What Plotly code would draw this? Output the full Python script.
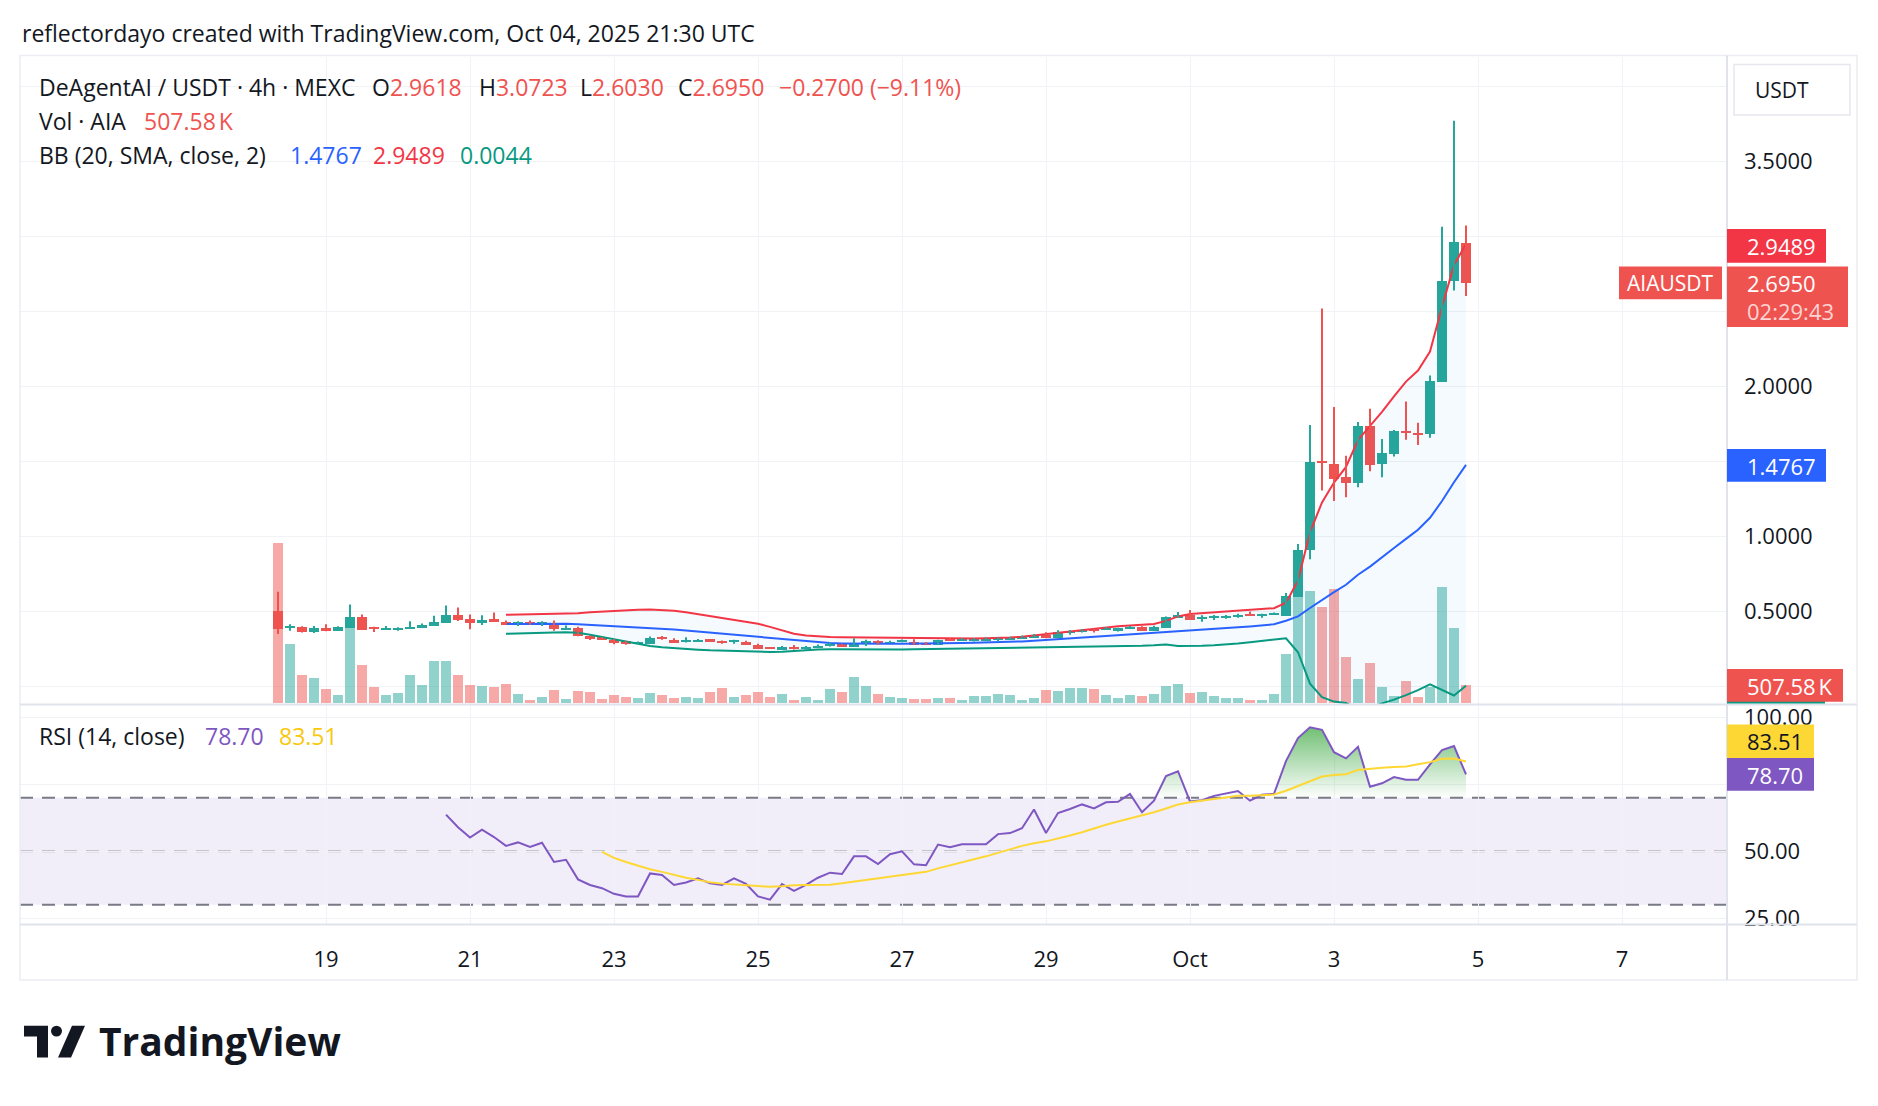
import pandas as pd
import plotly.graph_objects as go

W, H = 1878, 1106

# ---------------- data ----------------
start_time = "2025-09-18 08:00"
n_bars = 100

opens = [0.505, 0.396, 0.399, 0.364, 0.392, 0.370, 0.394, 0.467, 0.394, 0.385,
         0.383, 0.388, 0.390, 0.407, 0.429, 0.480, 0.454, 0.427, 0.454, 0.436,
         0.420, 0.436, 0.420, 0.429, 0.383, 0.392, 0.339, 0.328, 0.315, 0.302,
         0.287, 0.284, 0.330, 0.315, 0.302, 0.304, 0.315, 0.304, 0.300, 0.302,
         0.282, 0.260, 0.243, 0.269, 0.258, 0.262, 0.273, 0.282, 0.269, 0.293,
         0.306, 0.291, 0.297, 0.302, 0.291, 0.280, 0.321, 0.306, 0.311, 0.308,
         0.313, 0.317, 0.324, 0.324, 0.348, 0.324, 0.359, 0.366, 0.383, 0.377,
         0.374, 0.385, 0.399, 0.374, 0.394, 0.460, 0.480, 0.456, 0.460, 0.460,
         0.469, 0.484, 0.473, 0.482, 0.476, 0.599, 0.915, 1.500, 1.485, 1.398,
         1.361, 1.742, 1.488, 1.551, 1.700, 1.690, 1.684, 2.032, 2.704, 2.9618]
highs = [0.632, 0.415, 0.402, 0.403, 0.414, 0.401, 0.546, 0.480, 0.398, 0.403,
         0.394, 0.434, 0.420, 0.471, 0.540, 0.526, 0.480, 0.474, 0.493, 0.440,
         0.434, 0.440, 0.434, 0.440, 0.407, 0.398, 0.339, 0.330, 0.317, 0.304,
         0.300, 0.333, 0.337, 0.322, 0.328, 0.317, 0.317, 0.306, 0.311, 0.304,
         0.284, 0.262, 0.269, 0.276, 0.269, 0.280, 0.295, 0.284, 0.321, 0.311,
         0.308, 0.304, 0.313, 0.315, 0.297, 0.311, 0.323, 0.323, 0.323, 0.326,
         0.328, 0.332, 0.339, 0.350, 0.361, 0.374, 0.376, 0.383, 0.385, 0.396,
         0.392, 0.403, 0.401, 0.405, 0.467, 0.496, 0.509, 0.474, 0.476, 0.476,
         0.484, 0.500, 0.484, 0.493, 0.623, 0.949, 1.743, 2.520, 1.862, 1.538,
         1.762, 1.851, 1.649, 1.710, 1.899, 1.758, 2.072, 3.064, 3.770, 3.0723]
lows = [0.350, 0.372, 0.359, 0.357, 0.368, 0.370, 0.394, 0.377, 0.363, 0.381,
        0.372, 0.388, 0.390, 0.403, 0.429, 0.436, 0.381, 0.410, 0.429, 0.412,
        0.403, 0.412, 0.403, 0.372, 0.379, 0.335, 0.310, 0.313, 0.282, 0.278,
        0.285, 0.284, 0.311, 0.291, 0.293, 0.300, 0.297, 0.284, 0.284, 0.280,
        0.251, 0.249, 0.243, 0.247, 0.245, 0.262, 0.267, 0.265, 0.269, 0.269,
        0.278, 0.289, 0.295, 0.280, 0.280, 0.280, 0.306, 0.306, 0.300, 0.306,
        0.300, 0.313, 0.322, 0.324, 0.322, 0.324, 0.344, 0.359, 0.359, 0.377,
        0.366, 0.385, 0.372, 0.374, 0.390, 0.460, 0.443, 0.432, 0.443, 0.452,
        0.458, 0.473, 0.458, 0.480, 0.476, 0.599, 0.848, 1.307, 1.236, 1.262,
        1.328, 1.435, 1.395, 1.533, 1.645, 1.610, 1.658, 2.032, 2.639, 2.6030]
closes = [0.383, 0.408, 0.366, 0.392, 0.370, 0.401, 0.467, 0.381, 0.383, 0.394,
          0.394, 0.401, 0.416, 0.434, 0.480, 0.447, 0.429, 0.449, 0.434, 0.416,
          0.434, 0.420, 0.434, 0.383, 0.396, 0.337, 0.317, 0.315, 0.291, 0.289,
          0.297, 0.324, 0.317, 0.291, 0.311, 0.315, 0.302, 0.293, 0.308, 0.282,
          0.251, 0.251, 0.269, 0.251, 0.267, 0.276, 0.287, 0.269, 0.295, 0.306,
          0.291, 0.302, 0.311, 0.280, 0.280, 0.311, 0.306, 0.321, 0.321, 0.321,
          0.326, 0.330, 0.337, 0.348, 0.324, 0.363, 0.374, 0.381, 0.370, 0.392,
          0.390, 0.401, 0.374, 0.401, 0.467, 0.480, 0.443, 0.465, 0.471, 0.471,
          0.482, 0.473, 0.484, 0.491, 0.604, 0.916, 1.499, 1.490, 1.387, 1.361,
          1.742, 1.480, 1.557, 1.703, 1.690, 1.680, 2.037, 2.704, 2.965, 2.6950]
volumes_k = [4617, 1710, 798, 712, 399, 228, 2166, 1083, 456, 228,
             285, 798, 513, 1197, 1197, 798, 513, 485, 456, 542,
             257, 86, 171, 370, 114, 342, 314, 114, 228, 171,
             143, 285, 228, 143, 171, 143, 314, 428, 171, 228,
             314, 171, 257, 86, 171, 86, 399, 314, 741, 485,
             257, 171, 143, 114, 114, 143, 143, 86, 200, 200,
             257, 228, 86, 143, 370, 342, 428, 428, 399, 228,
             143, 228, 200, 257, 485, 542, 285, 314, 200, 143,
             143, 86, 86, 257, 1425, 3050, 3220, 2765, 3278, 1340,
             684, 1140, 456, 200, 627, 171, 456, 3335, 2166, 507.58]

bb_start = 19
bb_basis = [0.416, 0.417, 0.418, 0.418, 0.418, 0.418, 0.415, 0.411, 0.408, 0.405,
            0.400, 0.396, 0.392, 0.387, 0.380, 0.373, 0.366, 0.358, 0.350, 0.342,
            0.335, 0.327, 0.320, 0.312, 0.305, 0.298, 0.292, 0.289, 0.287, 0.285,
            0.284, 0.284, 0.284, 0.285, 0.285, 0.285, 0.286, 0.287, 0.289, 0.291,
            0.292, 0.294, 0.297, 0.300, 0.304, 0.309, 0.314, 0.319, 0.325, 0.331,
            0.337, 0.343, 0.348, 0.352, 0.355, 0.359, 0.366, 0.371, 0.377, 0.382,
            0.388, 0.394, 0.400, 0.407, 0.415, 0.438, 0.467, 0.523, 0.578, 0.629,
            0.678, 0.745, 0.799, 0.858, 0.923, 0.984, 1.044, 1.124, 1.236, 1.361,
            1.4767]
bb_upper = [0.478, 0.479, 0.480, 0.481, 0.482, 0.483, 0.488, 0.494, 0.499, 0.504,
            0.509, 0.512, 0.513, 0.510, 0.505, 0.494, 0.482, 0.469, 0.456, 0.444,
            0.432, 0.418, 0.397, 0.375, 0.352, 0.340, 0.333, 0.330, 0.328, 0.327,
            0.327, 0.326, 0.325, 0.323, 0.321, 0.319, 0.318, 0.318, 0.319, 0.320,
            0.321, 0.322, 0.326, 0.332, 0.341, 0.350, 0.359, 0.368, 0.377, 0.387,
            0.394, 0.401, 0.407, 0.412, 0.416, 0.437, 0.467, 0.483, 0.489, 0.494,
            0.500, 0.505, 0.510, 0.516, 0.522, 0.558, 0.706, 1.027, 1.227, 1.359,
            1.463, 1.643, 1.736, 1.830, 1.934, 2.032, 2.106, 2.232, 2.530, 2.810,
            2.9489]
bb_lower = [0.351, 0.352, 0.354, 0.357, 0.360, 0.362, 0.358, 0.345, 0.330, 0.312,
            0.295, 0.280, 0.270, 0.262, 0.255, 0.249, 0.245, 0.241, 0.238, 0.236,
            0.234, 0.231, 0.230, 0.232, 0.238, 0.245, 0.247, 0.248, 0.247, 0.246,
            0.245, 0.245, 0.246, 0.247, 0.248, 0.249, 0.250, 0.250, 0.251, 0.253,
            0.254, 0.255, 0.256, 0.258, 0.260, 0.262, 0.262, 0.263, 0.265, 0.267,
            0.268, 0.269, 0.270, 0.271, 0.274, 0.279, 0.270, 0.269, 0.271, 0.274,
            0.279, 0.286, 0.295, 0.305, 0.315, 0.321, 0.228, 0.019, -0.072, -0.101,
            -0.110, -0.153, -0.138, -0.114, -0.088, -0.058, -0.025, 0.014, -0.025, -0.060,
            0.0044]

rsi_start = 14
rsi_values = [63.7, 59.0, 55.1, 58.1, 55.3, 52.0, 53.3, 51.6, 53.2, 46.0,
              46.8, 39.5, 37.4, 36.2, 34.1, 33.1, 33.1, 41.7, 41.1, 37.4,
              38.3, 39.9, 38.0, 37.4, 39.9, 37.8, 33.1, 31.9, 37.7, 35.2,
              37.4, 40.1, 42.0, 41.5, 48.1, 48.1, 45.2, 48.9, 50.0, 45.1,
              44.8, 52.5, 51.5, 52.6, 52.6, 52.6, 56.4, 56.8, 58.6, 65.6,
              56.8, 64.3, 65.8, 67.5, 66.0, 68.3, 68.5, 71.4, 64.6, 68.9,
              78.1, 79.9, 68.6, 69.1, 70.7, 71.5, 72.5, 68.9, 71.1, 71.5,
              83.7, 92.3, 96.3, 95.4, 87.0, 84.7, 89.0, 74.1, 75.4, 77.7,
              76.7, 76.7, 82.5, 87.8, 89.3, 78.70]
rsi_ma_start = 27
rsi_ma_values = [49.8, 47.5, 46.0, 44.6, 43.3, 42.3, 41.1, 40.1, 39.3, 38.4,
                 37.9, 37.7, 37.3, 37.0, 36.7, 36.9, 37.3, 37.4, 37.4, 37.5,
                 38.0, 38.6, 39.3, 39.9, 40.5, 41.1, 41.6, 42.3, 43.6, 44.8,
                 46.0, 47.0, 48.1, 49.5, 50.7, 52.0, 53.0, 53.7, 54.7, 55.9,
                 57.1, 58.6, 59.9, 61.1, 62.3, 63.3, 64.6, 66.0, 67.5, 68.3,
                 68.8, 69.5, 70.1, 70.7, 70.7, 71.0, 71.2, 72.6, 74.4, 76.3,
                 77.9, 78.5, 78.8, 80.4, 80.9, 81.2, 81.5, 81.7, 82.5, 83.3,
                 84.6, 84.7, 83.51]

tick_days = ["2025-09-19", "2025-09-21", "2025-09-23", "2025-09-25", "2025-09-27",
             "2025-09-29", "2025-10-01", "2025-10-03", "2025-10-05", "2025-10-07"]
tick_labels = ["19", "21", "23", "25", "27", "29", "Oct", "3", "5", "7"]
price_ticks = [0.0, 0.5, 1.0, 1.5, 2.0, 2.5, 3.0, 3.5, 4.0]
price_tick_text = ["", "0.5000", "1.0000", "", "2.0000", "", "", "3.5000", ""]
rsi_ticks = [25, 50, 75, 100]
rsi_tick_text = ["25.00", "50.00", "", "100.00"]
x_range = ["2025-09-14 18:00", "2025-10-08 11:00"]

# ---------------- style ----------------
FONT = "Open Sans"
TEXT = "#131722"
UP, DOWN = "#26A69A", "#EF5350"
VOL_UP, VOL_DN = "rgba(38,166,154,0.5)", "rgba(239,83,80,0.5)"
GRID = "#F0F2F5"
SEP = "#E0E3EB"
BAR_MS = 4 * 3600 * 1000 * 0.8
TXT_SIZE = 23
NUM_SIZE = 22


def px(x):
    return x / W


def py(y):
    return 1 - y / H


times = pd.date_range(start_time, periods=n_bars, freq="4h")
is_up = [c >= o for o, c in zip(opens, closes)]

fig = go.Figure()

# volume (base axis y)
fig.add_trace(go.Bar(x=times, y=volumes_k, width=BAR_MS,
                     marker=dict(color=[VOL_UP if u else VOL_DN for u in is_up], line_width=0),
                     xaxis="x", yaxis="y", hoverinfo="skip"))

# Bollinger bands (price axis y3)
bb_t = times[bb_start:]
fig.add_trace(go.Scatter(x=bb_t, y=bb_lower, mode="lines", line=dict(color="#089981", width=2),
                         xaxis="x", yaxis="y3"))
fig.add_trace(go.Scatter(x=bb_t, y=bb_upper, mode="lines", line=dict(color="#F23645", width=2),
                         fill="tonexty", fillcolor="rgba(33,150,243,0.05)", xaxis="x", yaxis="y3"))
fig.add_trace(go.Scatter(x=bb_t, y=bb_basis, mode="lines", line=dict(color="#2962FF", width=2),
                         xaxis="x", yaxis="y3"))

# candle wicks
for flag, col in ((True, UP), (False, DOWN)):
    wx, wy = [], []
    for t, lo, hi, u in zip(times, lows, highs, is_up):
        if u == flag:
            wx += [t, t, None]
            wy += [lo, hi, None]
    fig.add_trace(go.Scatter(x=wx, y=wy, mode="lines", line=dict(color=col, width=2),
                             xaxis="x", yaxis="y3", hoverinfo="skip"))

# candle bodies
body_h = []
for o, c, u in zip(opens, closes, is_up):
    h = c - o
    if abs(h) < 0.005:
        h = 0.005 if u else -0.005
    body_h.append(h)
fig.add_trace(go.Bar(x=times, y=body_h, base=opens, width=BAR_MS,
                     marker=dict(color=[UP if u else DOWN for u in is_up], line_width=0),
                     xaxis="x", yaxis="y3", hoverinfo="skip"))

# RSI pane
rsi_t = times[rsi_start:]
fig.add_trace(go.Scatter(x=rsi_t, y=[70] * len(rsi_values), mode="lines",
                         line=dict(width=0), xaxis="x2", yaxis="y2", hoverinfo="skip"))
fig.add_trace(go.Scatter(x=rsi_t, y=[max(v, 70) for v in rsi_values], mode="lines",
                         line=dict(width=0), fill="tonexty",
                         fillgradient=dict(type="vertical", start=70, stop=100,
                                           colorscale=[[0, "rgba(76,175,80,0)"], [1, "rgba(76,175,80,0.9)"]]),
                         xaxis="x2", yaxis="y2", hoverinfo="skip"))
fig.add_trace(go.Scatter(x=rsi_t, y=rsi_values, mode="lines", line=dict(color="#7E57C2", width=2),
                         xaxis="x2", yaxis="y2"))
fig.add_trace(go.Scatter(x=times[rsi_ma_start:], y=rsi_ma_values, mode="lines",
                         line=dict(color="#FDD835", width=2), xaxis="x2", yaxis="y2"))

plot_dom = [px(20), px(1727)]
axis_common = dict(type="date", range=x_range, tickvals=tick_days, showgrid=True,
                   gridcolor=GRID, gridwidth=1.3, zeroline=False, showline=False, ticks="")

fig.update_layout(
    width=W, height=H, autosize=False, margin=dict(l=0, r=0, t=0, b=0),
    paper_bgcolor="white", plot_bgcolor="rgba(0,0,0,0)", showlegend=False,
    barmode="overlay", bargap=0,
    font=dict(family=FONT, size=20, color=TEXT),
    xaxis=dict(domain=plot_dom, anchor="y", showticklabels=False, **axis_common),
    xaxis2=dict(domain=plot_dom, anchor="y2", matches="x", ticktext=tick_labels,
                tickfont=dict(size=NUM_SIZE, color=TEXT), ticklabelstandoff=19, **axis_common),
    yaxis=dict(domain=[py(708), py(54)], range=[-57, 18582], visible=False),
    yaxis3=dict(overlaying="y", side="right", anchor="x", range=[-0.1209, 4.199],
                tickvals=price_ticks, ticktext=price_tick_text,
                showgrid=True, gridcolor=GRID, gridwidth=1.3, zeroline=False, showline=False,
                ticks="", ticklabelstandoff=16, tickfont=dict(size=NUM_SIZE, color=TEXT)),
    yaxis2=dict(domain=[py(930), py(708)], range=[22.59, 104.81], side="right", anchor="x2",
                tickvals=rsi_ticks, ticktext=rsi_tick_text,
                showgrid=True, gridcolor=GRID, gridwidth=1.3, zeroline=False, showline=False,
                ticks="", ticklabelstandoff=16, tickfont=dict(size=NUM_SIZE, color=TEXT)),
)

shapes = []
# RSI band + levels
shapes.append(dict(type="rect", xref="x2 domain", yref="y2", x0=0, x1=1, y0=30, y1=70,
                   fillcolor="rgba(126,87,194,0.1)", line_width=0, layer="below"))
for lvl, col in ((70, "#787B86"), (50, "rgba(120,123,134,0.5)"), (30, "#787B86")):
    shapes.append(dict(type="line", xref="x2 domain", yref="y2", x0=0, x1=1, y0=lvl, y1=lvl,
                       line=dict(color=col, width=2, dash="13px,9px"), layer="below"))

# frame and separators
shapes.append(dict(type="rect", xref="paper", yref="paper", x0=px(20), x1=px(1857), y0=py(986), y1=py(53),
                   line=dict(color="#EBEDF2", width=1.5), fillcolor="rgba(0,0,0,0)", layer="above"))
shapes.append(dict(type="line", xref="paper", yref="paper", x0=px(1727), x1=px(1727), y0=py(986), y1=py(53),
                   line=dict(color=SEP, width=2), layer="above"))
for yy in (708, 930):
    shapes.append(dict(type="line", xref="paper", yref="paper", x0=px(20), x1=px(1857), y0=py(yy), y1=py(yy),
                       line=dict(color=SEP, width=2), layer="above"))

annotations = []


def box(x0, x1, y0, y1, color, line=None):
    shapes.append(dict(type="rect", xref="paper", yref="paper", x0=px(x0), x1=px(x1), y0=py(y1), y1=py(y0),
                       fillcolor=color, line=dict(width=1.5 if line else 0, color=line or color),
                       layer="above"))


def txt(x, y, s, color=TEXT, size=TXT_SIZE, anchor="left", family=FONT):
    annotations.append(dict(xref="paper", yref="paper", x=px(x), y=py(y), text=s, showarrow=False,
                            xanchor=anchor, yanchor="middle", align="left",
                            font=dict(family=family, size=size, color=color)))


# right-axis labels
box(1734, 1850, 62, 113, "white", line="#E6E8EE")
txt(1753, 88, "USDT", size=21)
box(1727, 1826, 228, 262, "#F23645")
txt(1745, 245, "2.9489", "white", size=NUM_SIZE)
box(1619, 1722, 266, 299, "#EF5350")
txt(1670, 283, "AIAUSDT", "white", size=21, anchor="center")
box(1727, 1848, 266, 327, "#EF5350")
txt(1745, 283, "2.6950", "white", size=NUM_SIZE)
txt(1745, 311, "02:29:43", "rgba(255,255,255,0.75)", size=NUM_SIZE)
box(1727, 1826, 450, 483, "#2962FF")
txt(1745, 467, "1.4767", "white", size=NUM_SIZE)
box(1727, 1825, 690, 707, "#089981")
box(1727, 1843, 672, 705, "#EF5350")
txt(1745, 689, "507.58\u202fK", "white", size=NUM_SIZE)
box(1727, 1814, 728, 762, "#FDD835")
txt(1745, 745, "83.51", TEXT, size=NUM_SIZE)
box(1727, 1814, 762, 795, "#7E57C2")
txt(1745, 779, "78.70", "white", size=NUM_SIZE)

# header + legends
RED_V = "#EF5350"
txt(20, 30, "reflectordayo created with TradingView.com, Oct 04, 2025 21:30 UTC")
txt(37, 85, "DeAgentAI / USDT · 4h · MEXC")
for x, lab, val in ((370, "O", "2.9618"), (477, "H", "3.0723"), (578, "L", "2.6030"), (676, "C", "2.6950")):
    txt(x, 85, f"{lab}<span style='color:{RED_V}'>{val}</span>")
txt(777, 85, "\u22120.2700 (\u22129.11%)", RED_V)
txt(37, 119, "Vol · AIA")
txt(142, 119, "507.58\u202fK", RED_V)
txt(37, 153, "BB (20, SMA, close, 2)")
txt(288, 153, "1.4767", "#2962FF")
txt(371, 153, "2.9489", "#F23645")
txt(458, 153, "0.0044", "#089981")
txt(37, 740, "RSI (14, close)")
txt(203, 740, "78.70", "#7E57C2")
txt(277, 740, "83.51", "#F9C80E")

# TradingView logo
shapes.append(dict(type="path", xref="paper", yref="paper",
                   path=f"M {px(24)},{py(1032)} L {px(48)},{py(1032)} L {px(48)},{py(1064)} L {px(37)},{py(1064)} "
                        f"L {px(37)},{py(1043)} L {px(24)},{py(1043)} Z",
                   fillcolor=TEXT, line_width=0, layer="above"))
shapes.append(dict(type="circle", xref="paper", yref="paper", x0=px(51), x1=px(62), y0=py(1043), y1=py(1032),
                   fillcolor=TEXT, line_width=0, layer="above"))
shapes.append(dict(type="path", xref="paper", yref="paper",
                   path=f"M {px(58)},{py(1064)} L {px(71)},{py(1064)} L {px(85)},{py(1032)} L {px(72)},{py(1032)} Z",
                   fillcolor=TEXT, line_width=0, layer="above"))
txt(97, 1047, "<b>TradingView</b>", TEXT, size=39)

fig.update_layout(shapes=shapes, annotations=annotations)
fig.write_html("out.html")
